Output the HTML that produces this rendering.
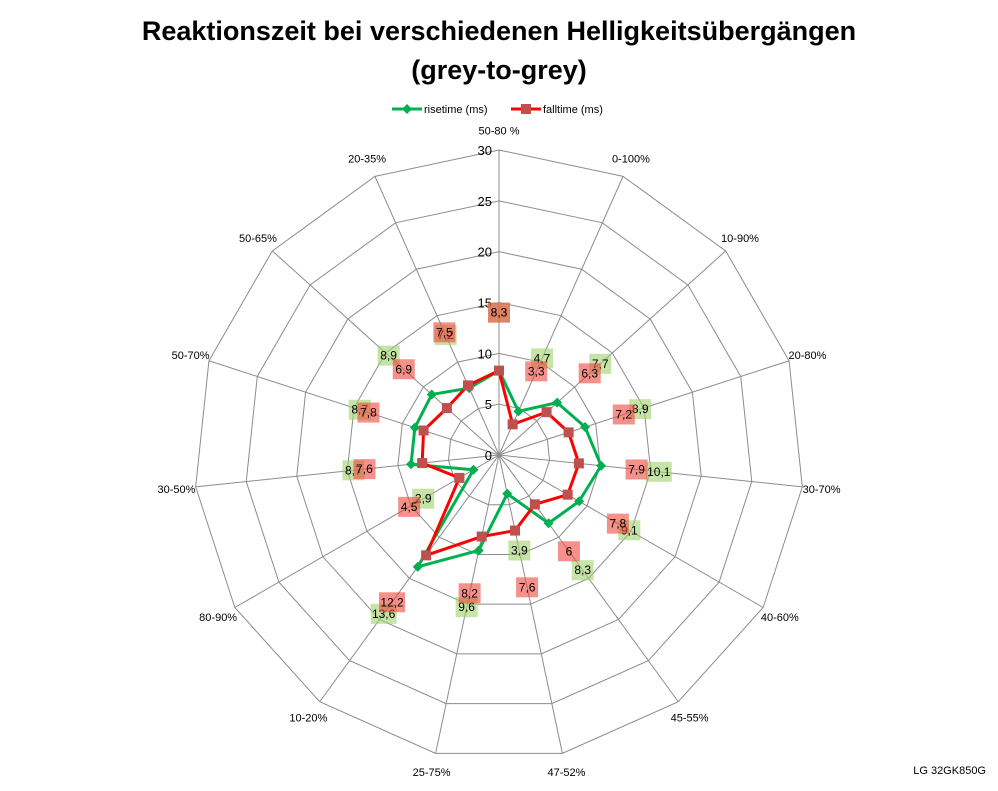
<!DOCTYPE html>
<html><head><meta charset="utf-8"><style>
body{margin:0;background:#fff;width:998px;height:786px;overflow:hidden;font-family:"Liberation Sans",sans-serif}
</style></head><body>
<svg id="chart" width="998" height="786" font-family="Liberation Sans, sans-serif">
<text x="499" y="40" text-anchor="middle" font-size="27" font-weight="bold">Reaktionszeit bei verschiedenen Helligkeitsübergängen</text>
<text x="499" y="79" text-anchor="middle" font-size="27" font-weight="bold">(grey-to-grey)</text>
<g>
<g><line x1="392" y1="109" x2="422" y2="109" stroke="#00b050" stroke-width="3"/><path d="M407 104 L412 109 L407 114 L402 109Z" fill="#00b050"/><text x="424" y="113" font-size="11">risetime (ms)</text></g>
<g><line x1="511" y1="109" x2="541" y2="109" stroke="#ff0000" stroke-width="3"/><rect x="521" y="104" width="10" height="10" fill="#c0504d"/><text x="543" y="113" font-size="11">falltime (ms)</text></g>
</g>
<g id="grid"></g>
<g id="series"></g>
<g id="labels"></g>
<text x="986" y="774" text-anchor="end" font-size="11">LG 32GK850G</text>
</svg>
<script>
const categories=["50-80 %","0-100%","10-90%","20-80%","30-70%","40-60%","45-55%","47-52%","25-75%","10-20%","80-90%","30-50%","50-70%","50-65%","20-35%"];
const riseValues=[8.3,4.7,7.7,8.9,10.1,9.1,8.3,3.9,9.6,13.6,2.9,8.7,8.7,8.9,7.2];
const fallValues=[8.3,3.3,6.3,7.2,7.9,7.8,6,7.6,8.2,12.2,4.5,7.6,7.8,6.9,7.5];
const riseLabels=["8,3","4,7","7,7","8,9","10,1","9,1","8,3","3,9","9,6","13,6","2,9","8,7","8,7","8,9","7,2"];
const fallLabels=["8,3","3,3","6,3","7,2","7,9","7,8","6","7,6","8,2","12,2","4,5","7,6","7,8","6,9","7,5"];
const ticks=[0,5,10,15,20,25,30];
const NS="http://www.w3.org/2000/svg";
const cx=499,cy=455,R=305,maxV=30,N=categories.length;
function ang(i){return i*2*Math.PI/N;}
function pt(i,v){const r=v/maxV*R;return [cx+r*Math.sin(ang(i)),cy-r*Math.cos(ang(i))];}
function mk(tag,attrs,parent){const e=document.createElementNS(NS,tag);for(const k in attrs)e.setAttribute(k,attrs[k]);parent.appendChild(e);return e;}
const grid=document.getElementById('grid'),series=document.getElementById('series'),labels=document.getElementById('labels');
ticks.forEach(t=>{if(t===0)return;const p=categories.map((c,i)=>pt(i,t).join(',')).join(' ');
const g=mk('polygon',{points:p,fill:'none',stroke:'#8c8c8c','stroke-width':1},grid);

});
categories.forEach((c,i)=>{const [x,y]=pt(i,maxV);
const l=mk('line',{x1:cx,y1:cy,x2:x,y2:y,stroke:'#8c8c8c','stroke-width':1},grid);


const [lx,ly]=pt(i,maxV+1.9);const s=Math.sin(ang(i));
const t=mk('text',{x:lx,y:ly+4,'font-size':11,'text-anchor':Math.abs(s)<0.1?'middle':(s>0?'middle':'middle')},grid);
t.textContent=c;

});
ticks.forEach(t=>{const [x,y]=pt(0,t);const e=mk('text',{x:x-7,y:y+5,'font-size':13,'text-anchor':'end'},grid);
e.textContent=t;

});
function drawSeries(vals,color,marker,name){
const p=vals.map((v,i)=>pt(i,v).join(',')).join(' ');
const pl=mk('polygon',{points:p,fill:'none',stroke:color,'stroke-width':3,'stroke-linejoin':'round'},series);


vals.forEach((v,i)=>{const [x,y]=pt(i,v);let m;
if(marker==='d')m=mk('path',{d:`M${x} ${y-5}L${x+5} ${y}L${x} ${y+5}L${x-5} ${y}Z`,fill:'#00b050'},series);
else m=mk('rect',{x:x-5,y:y-5,width:10,height:10,fill:'#c0504d'},series);

});}
drawSeries(riseValues,'#00b050','d','risetime');
drawSeries(fallValues,'#ff0000','s','falltime');
function drawLabels(vals,txts,fill,name){vals.forEach((v,i)=>{const r=v/maxV*R+58;
const x=cx+r*Math.sin(ang(i)),y=cy-r*Math.cos(ang(i));const w=txts[i].length>3?26:22;
const b=mk('rect',{x:x-w/2,y:y-10,width:w,height:20,fill:fill},labels);


const t=mk('text',{x:x,y:y+4,'font-size':12,'text-anchor':'middle'},labels);
t.textContent=txts[i];

});}
drawLabels(riseValues,riseLabels,'rgba(160,210,110,0.6)','risetime');
drawLabels(fallValues,fallLabels,'rgba(240,70,60,0.6)','falltime');
</script>
</body></html>
